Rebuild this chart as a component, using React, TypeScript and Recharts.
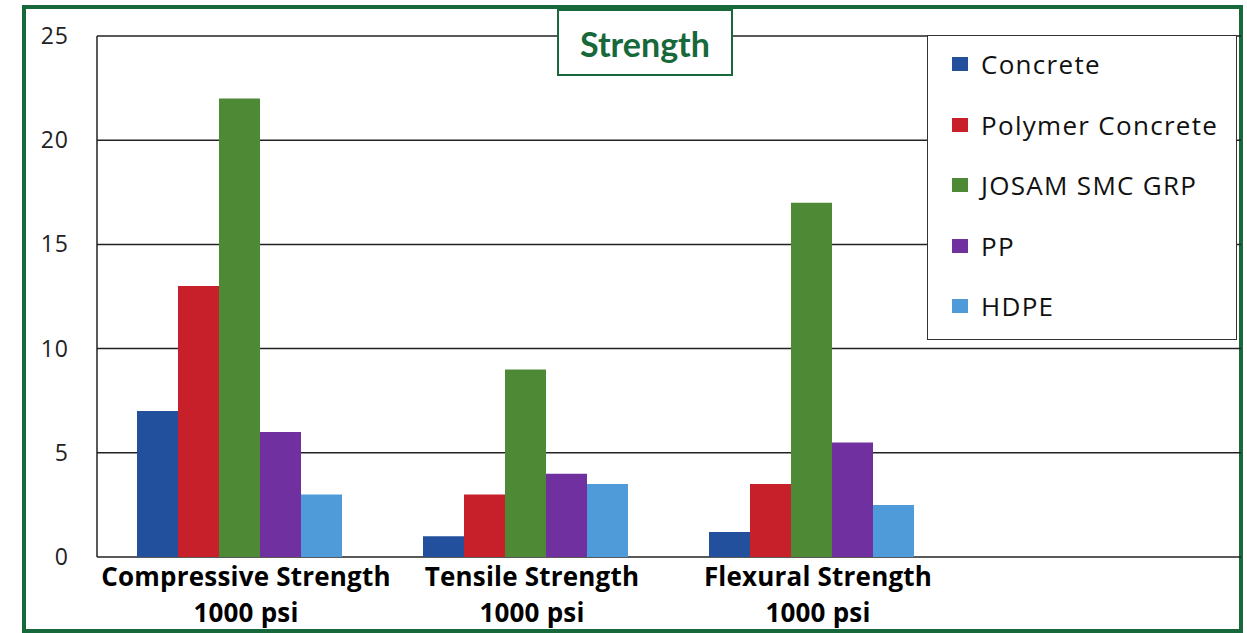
import React from "react";
import { BarChart, Bar, XAxis, YAxis, CartesianGrid, Legend } from "recharts";

const categories = ["Compressive Strength", "Tensile Strength", "Flexural Strength", ""];
const unitLabels = ["1000 psi", "1000 psi", "1000 psi", ""];
const concrete = [7, 1, 1.2, null];
const polymerConcrete = [13, 3, 3.5, null];
const josam = [22, 9, 17, null];
const pp = [6, 4, 5.5, null];
const hdpe = [3, 3.5, 2.5, null];
const yTicks = [0, 5, 10, 15, 20, 25];

const seriesNames = ["Concrete", "Polymer Concrete", "JOSAM SMC GRP", "PP", "HDPE"];
const seriesKeys = ["concrete", "polymer", "josam", "pp", "hdpe"];
const seriesColors = ["#23509C", "#C8202B", "#4E8A36", "#7030A0", "#4F9BDA"];
const seriesValues = [concrete, polymerConcrete, josam, pp, hdpe];

const data = categories.map((c, i) => {
  const row: any = { name: c, unit: unitLabels[i] };
  seriesKeys.forEach((k, s) => {
    row[k] = seriesValues[s][i];
  });
  return row;
});

const GREEN = "#17683A";

const XTick = (props: any) => {
  const { x, y, payload, index } = props;
  return (
    <text
      x={x}
      y={y}
      textAnchor="middle"
      fontFamily="'Open Sans', sans-serif"
      fontWeight={700}
      fontSize={26}
      letterSpacing={0.2}
      fill="#000"
    >
      <tspan x={x + 6} dy={21}>{payload.value}</tspan>
      <tspan x={x + 6} dy={36}>{unitLabels[index]}</tspan>
    </text>
  );
};

const YTick = (props: any) => {
  const { y, payload } = props;
  return (
    <text
      x={69}
      y={y}
      dy={8}
      textAnchor="end"
      fontFamily="'Open Sans', sans-serif"
      fontSize={23}
      letterSpacing={1}
      fill="#222"
    >
      {payload.value}
    </text>
  );
};

const LegendContent = () => (
  <div
    style={{
      width: 310,
      height: 305,
      background: "#fff",
      border: "1.5px solid #333",
      boxSizing: "border-box",
      paddingTop: 0,
    }}
  >
    {seriesNames.map((n, i) => (
      <div
        key={n}
        style={{
          display: "flex",
          alignItems: "center",
          height: 60.5,
          marginLeft: 24,
          marginTop: i === 0 ? -2 : 0,
        }}
      >
        <div style={{ width: 16, height: 14, background: seriesColors[i], marginRight: 13 }} />
        <span
          style={{
            fontFamily: "'Open Sans', sans-serif",
            fontSize: 26,
            color: "#111",
            letterSpacing: 1.3,
          }}
        >
          {n}
        </span>
      </div>
    ))}
  </div>
);

export default function App() {
  return (
    <div style={{ position: "absolute", left: 0, top: 0, width: 1247, height: 633, background: "#fff" }}>
      <div
        style={{
          position: "absolute",
          left: 22,
          top: 5,
          width: 1221,
          height: 628,
          border: `4px solid ${GREEN}`,
          boxSizing: "border-box",
        }}
      />
      <BarChart
        width={1247}
        height={633}
        data={data}
        margin={{ top: 36, right: 6, left: 0, bottom: 0 }}
        barCategoryGap={40}
        barGap={0}
      >
        <CartesianGrid vertical={false} stroke="#222" strokeWidth={1.5} />
        <XAxis
          dataKey="name"
          height={76}
          axisLine={false}
          tickLine={false}
          tick={<XTick />}
          interval={0}
        />
        <YAxis
          width={97}
          domain={[0, 25]}
          ticks={yTicks}
          axisLine={{ stroke: "#222", strokeWidth: 1.5 }}
          tickLine={false}
          tick={<YTick />}
        />
        <Legend
          layout="vertical"
          align="center"
          verticalAlign="middle"
          wrapperStyle={{ left: 927, top: 35, width: 310, height: 305 }}
          content={<LegendContent />}
        />
        {seriesKeys.map((k, i) => (
          <Bar key={k} dataKey={k} name={seriesNames[i]} fill={seriesColors[i]} isAnimationActive={false} />
        ))}
      </BarChart>
      <div
        style={{
          position: "absolute",
          left: 557,
          top: 9,
          width: 176,
          height: 67,
          border: `2px solid ${GREEN}`,
          boxSizing: "border-box",
          background: "#fff",
          display: "flex",
          alignItems: "center",
          justifyContent: "center",
          fontFamily: "Lato, sans-serif",
          fontWeight: 700,
          fontSize: 34,
          color: GREEN,
          paddingTop: 2,
        }}
      >
        Strength
      </div>
    </div>
  );
}
